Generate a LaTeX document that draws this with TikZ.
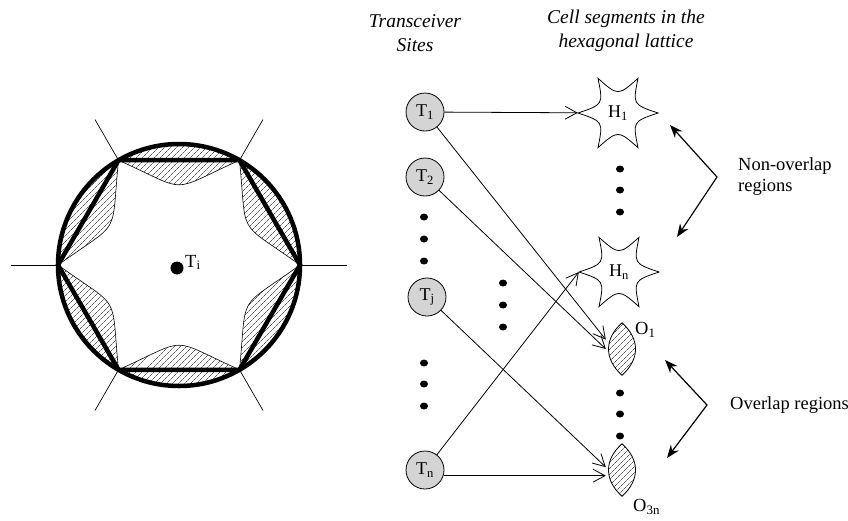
\documentclass[tikz,border=0pt]{standalone}
\usepackage{fontspec}
\setmainfont{Liberation Serif}
\usepackage{tikz}
\usetikzlibrary{arrows.meta,calc,patterns.meta}
\definecolor{sitegray}{RGB}{212,212,212}

\begin{document}
\begin{tikzpicture}[x=1pt, y=-1pt, >={Straight Barb[length=12pt,width=13pt]},
    site/.style={circle, draw, line width=0.8pt, fill=sitegray, minimum size=38pt, inner sep=0pt, font=\fontsize{18}{20}\selectfont},
    cell/.style={circle, minimum size=80pt, inner sep=0pt, font=\fontsize{18}{20}\selectfont},
    lens/.style={rectangle, minimum width=32pt, minimum height=52pt, inner sep=0pt},
    hatch/.style={pattern={Lines[angle=45, distance=4pt, line width=0.45pt]}},
    flow/.style={->, line width=0.8pt},
    bracket/.style={{Stealth[length=13pt,width=10pt]}-{Stealth[length=13pt,width=10pt]}, line width=1.2pt},
    lbl/.style={font=\fontsize{18.5}{21}\selectfont, align=left, inner sep=0pt},
    head/.style={font=\fontsize{19.5}{24}\selectfont\itshape, align=center, inner sep=0pt}]
  \useasboundingbox (0,0) rectangle (848,520);

  % one cell: hexagon in its circle, overlap lenses on every side
  \begin{scope}[shift={(179,265)}]
    \foreach \k in {0,...,5} {
      \begin{scope}[rotate=60*\k]
        \filldraw[hatch, line width=0.5pt] (60:121) arc[start angle=60, end angle=120, radius=121] -- cycle;
        \filldraw[hatch, line width=0.6pt] (60:121) .. controls (-12,72) and (12,72) .. (120:121) -- cycle;
      \end{scope}
      \draw[line width=0.7pt] (60*\k:121) -- (60*\k:168);
    }
    \draw[line width=4.5pt] (0,0) circle[radius=121];
    \draw[line width=4.5pt, line join=miter] (0:121) -- (60:121) -- (120:121) -- (180:121) -- (240:121) -- (300:121) -- cycle;
    \node[circle, fill, minimum size=13pt, inner sep=0pt] (Ti) at (-2,3) {};
  \end{scope}
  \node[anchor=base west, inner sep=0pt, font=\fontsize{18.5}{21}\selectfont] (Tilbl) at (185,267) {T\textsubscript{i}};

  % headings
  \node[head] (sitehead) at (415,33) {Transceiver\\Sites};
  \node[head] (cellhead) at (626,31) {Cell segments in the\\hexagonal lattice};

  % transceiver sites
  \node[site] (T1) at (425,112) {T\textsubscript{1}};
  \node[site] (T2) at (425,177) {T\textsubscript{2}};
  \node[site] (Tj) at (427,297) {T\textsubscript{j}};
  \node[site] (Tn) at (425,470) {T\textsubscript{n}};

  % cell segments
  \node[cell] (H1) at (618,113) {H\textsubscript{1}};
  \node[cell] (Hn) at (619,272) {H\textsubscript{n}};
  \node[lens] (O1) at (622,349) {};
  \node[lens] (O3n) at (622,470) {};
  \node[lbl, anchor=west] (O1lbl) at (635,330) {O\textsubscript{1}};
  \node[lbl, anchor=west] (O3nlbl) at (633,507) {O\textsubscript{3n}};

  \foreach \cellname in {H1,Hn}
    \draw[line width=0.8pt] ($(\cellname)+(0:40)$) \foreach \a in {0,60,...,300} { .. controls ($(\cellname)+(\a+30:17)$) .. ($(\cellname)+(\a+60:40)$) } -- cycle;
  \foreach \lensname in {O1,O3n} {
    \path (\lensname.north) coordinate (top) (\lensname.south) coordinate (bot);
    \filldraw[hatch, line width=0.8pt] (top) .. controls ($(top)+(18,16)$) and ($(bot)+(18,-16)$) .. (bot)
      .. controls ($(bot)+(-18,-16)$) and ($(top)+(-18,16)$) .. (top) -- cycle;
  }

  % ellipsis dots
  \foreach \y in {217,239,261,363,384,406} \fill (424,\y) ellipse[x radius=4, y radius=3.5];
  \foreach \y in {283,305,327} \fill (503,\y) ellipse[x radius=4, y radius=3.5];
  \foreach \y in {169,190,212,393,414,436} \fill (620,\y) ellipse[x radius=4, y radius=3.5];

  % assignments
  \draw[flow] (T1) -- (H1);
  \draw[flow] (T1) -- (O1.150);
  \draw[flow] (T2) -- (O1.west);
  \draw[flow] (Tj) -- (O3n.170);
  \draw[flow] (Tn) -- (Hn.west);
  \draw[flow] (Tn.-17) -- (Tn.-17 -| O3n.west);

  % region brackets
  \node[lbl, anchor=west] (nonlbl) at (738,177) {Non-overlap\\regions};
  \node[lbl, anchor=west] (ovlbl) at (730,405) {Overlap regions};
  \coordinate (nonA) at (670,125);
  \coordinate (nonB) at (677,237);
  \coordinate (ovA) at (665,360);
  \coordinate (ovB) at (667,458);
  \draw[bracket] (nonA) -- ([xshift=-21pt]nonlbl.west) -- (nonB);
  \draw[bracket] (ovA) -- ([xshift=-23pt]ovlbl.west) -- (ovB);
\end{tikzpicture}
\end{document}
